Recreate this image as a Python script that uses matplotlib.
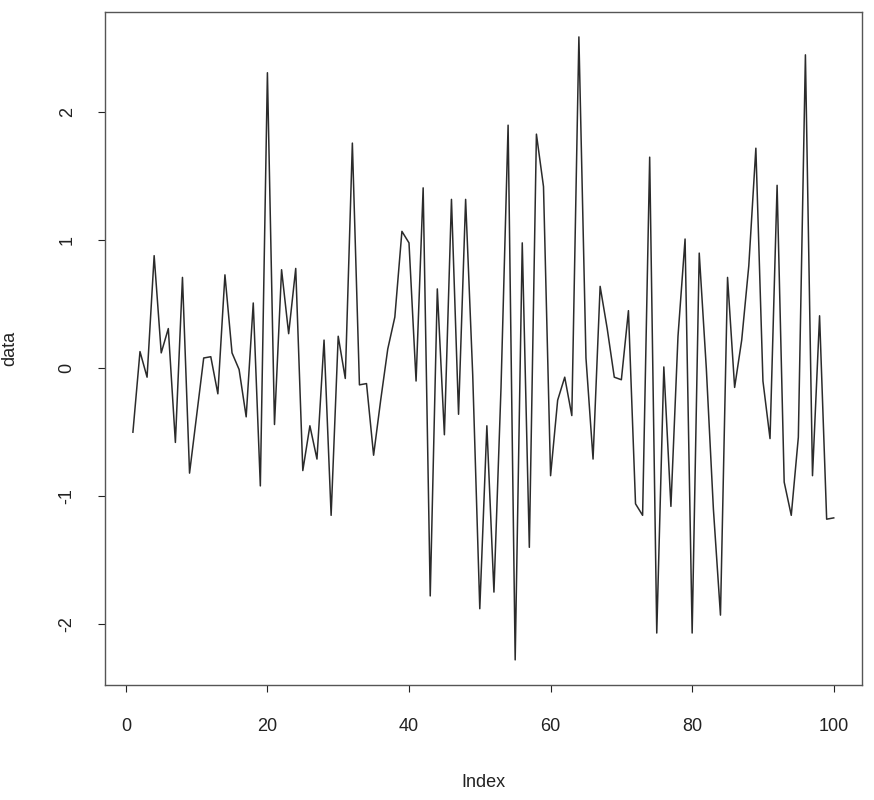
import numpy as np
import matplotlib
matplotlib.use('Agg')
import matplotlib.pyplot as plt

# values (index 1..100)
data = [
    -0.50, 0.13, -0.07, 0.88, 0.12, 0.31, -0.58, 0.71, -0.82, -0.37,
    0.08, 0.09, -0.20, 0.73, 0.12, -0.01, -0.38, 0.51, -0.92, 2.31,
    -0.44, 0.77, 0.27, 0.78, -0.80, -0.45, -0.71, 0.22, -1.15, 0.25,
    -0.08, 1.76, -0.13, -0.12, -0.68, -0.25, 0.15, 0.40, 1.07, 0.98,
    -0.10, 1.41, -1.78, 0.62, -0.52, 1.32, -0.36, 1.32, -0.05, -1.88,
    -0.45, -1.75, -0.15, 1.90, -2.28, 0.98, -1.40, 1.83, 1.42, -0.84,
    -0.25, -0.07, -0.37, 2.59, 0.08, -0.71, 0.64, 0.31, -0.07, -0.09,
    0.45, -1.06, -1.15, 1.65, -2.07, 0.01, -1.08, 0.25, 1.01, -2.07,
    0.90, 0.00, -1.10, -1.93, 0.71, -0.15, 0.22, 0.80, 1.72, -0.10,
    -0.55, 1.43, -0.89, -1.15, -0.54, 2.45, -0.84, 0.41, -1.18, -1.17,
]
index = np.arange(1, len(data) + 1)
x_ticks = [0, 20, 40, 60, 80, 100]
y_ticks = [-2, -1, 0, 1, 2]

plt.rcParams['font.family'] = ['Liberation Sans', 'DejaVu Sans']
plt.rcParams['axes.unicode_minus'] = False  # R draws a plain hyphen

fig = plt.figure(figsize=(8.74, 8.0), dpi=100)
ax = fig.add_axes([0.120, 0.144, 0.866, 0.841])

ax.plot(index, data, color='#2b2b2b', linewidth=1.1)
ax.margins(x=0.04, y=0.04)

ax.set_xticks(x_ticks)
ax.set_yticks(y_ticks)
ax.tick_params(axis='both', direction='out', length=5, width=0.8,
               labelsize=13, colors='#222222')
ax.tick_params(axis='x', pad=19)
ax.tick_params(axis='y', pad=16, labelrotation=90)
for lab in ax.get_yticklabels():
    lab.set_va('center')

for s in ax.spines.values():
    s.set_color('#555555')
    s.set_linewidth(1.0)

ax.set_xlabel('Index', fontsize=13, labelpad=28, color='#222222')
ax.set_ylabel('data', fontsize=13, labelpad=29, color='#222222')

fig.savefig('out.png', dpi=100)
